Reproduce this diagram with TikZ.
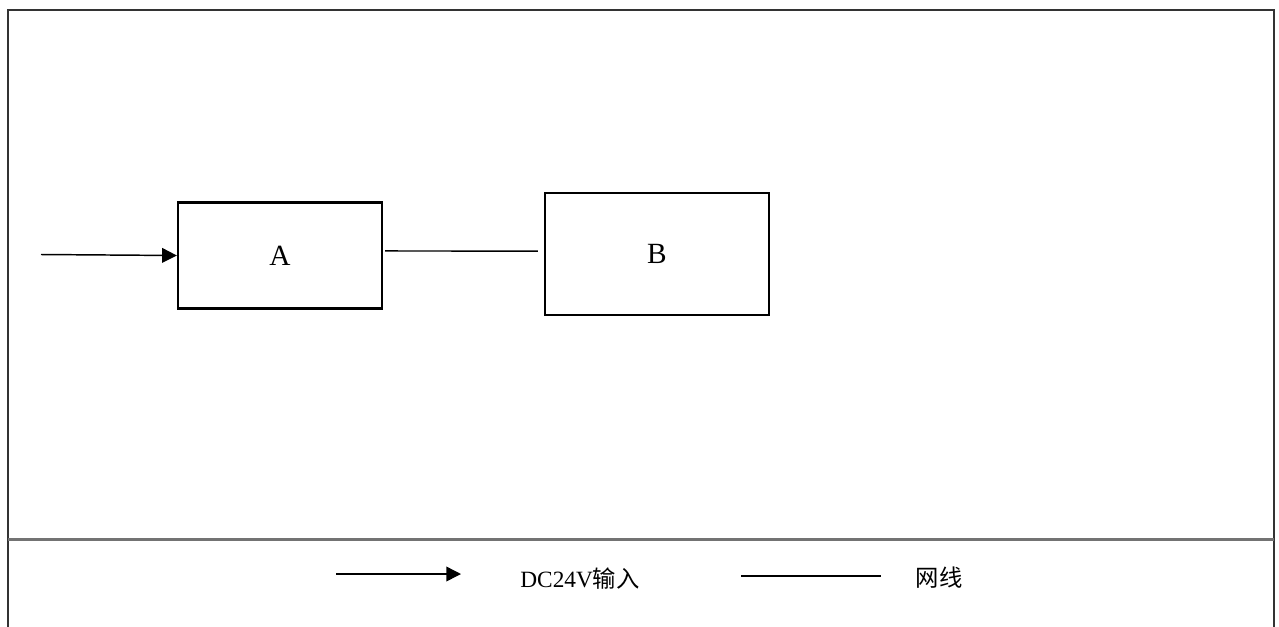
\documentclass[tikz,border=0pt]{standalone}
\usepackage{fontspec}
\setmainfont{Liberation Serif}
\newfontfamily\cjk{Noto Sans CJK SC}
\usetikzlibrary{arrows.meta}

\tikzset{
  block/.style={draw, line width=1.8pt, inner sep=0pt, font=\fontsize{22}{26}\selectfont},
  power/.style={line width=1.1pt, -{Triangle[length=11pt,width=11pt]}},
  netline/.style={line width=1.1pt},
  legendtext/.style={font=\fontsize{17.5}{20}\selectfont, inner sep=0pt}
}

\begin{document}
\begin{tikzpicture}[x=0.75pt, y=-0.75pt]
    \useasboundingbox (0,0) rectangle (1279,626);
    % frame
    \draw[line width=1.1pt, black!80] (8,640) -- (8,10) -- (1274,10) -- (1274,640);
    \draw[line width=1.6pt, black!55] (8,539.5) -- (1274,539.5);

    % blocks
    \node[block, minimum width=153pt, minimum height=79.5pt] (A) at (280,255.5) {A};
    \node[block, minimum width=168pt, minimum height=91.5pt] (B) at (657,254) {B};
    \coordinate (in) at (41,254.5);

    \draw[power] (in) -- (A.west);
    \draw[netline, shorten <=1.5pt, shorten >=4.5pt] ([yshift=3.4pt]A.east) -- ([yshift=2.2pt]B.west);

    % legend
    \coordinate (p1) at (336,574);
    \coordinate (p2) at (461,574);
    \coordinate (n1) at (741,576);
    \coordinate (n2) at (881,576);
    \draw[power] (p1) -- (p2);
    \draw[netline] (n1) -- (n2);
    \node[legendtext] (ptext) at (580,579) {DC24V{\cjk 输入}};
    \node[legendtext] (ntext) at (939,578) {\cjk 网线};
  \end{tikzpicture}
\end{document}
